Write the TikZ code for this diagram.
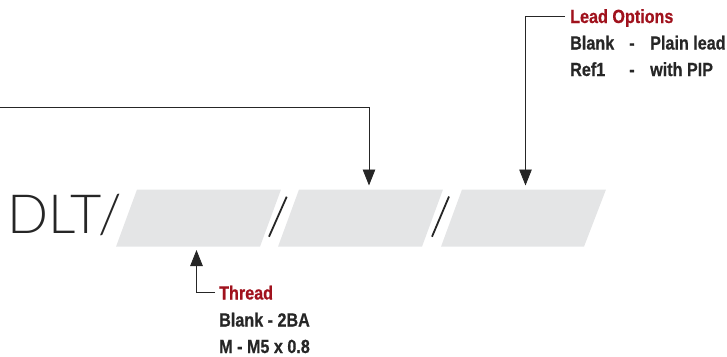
\documentclass[tikz,border=0pt]{standalone}
\usepackage{fontspec}
\setmainfont{Liberation Sans}
\newfontfamily\labelfont[FakeStretch=0.85,FakeBold=0.6]{Liberation Sans Bold}
\newfontfamily\codefont{Lato Light}
\usetikzlibrary{arrows.meta}
\definecolor{boxgrey}{HTML}{E4E5E6}
\definecolor{leadred}{HTML}{A0121D}
\definecolor{inkdark}{HTML}{262626}
\tikzset{
  x=1pt,y=-1pt,
  entry/.style={fill=boxgrey,draw=none},
  slashmark/.style={draw=inkdark,line width=1.8pt},
  headtext/.style={anchor=base west,inner sep=0pt,font=\labelfont\fontsize{19}{22}\selectfont,text=leadred},
  bodytext/.style={anchor=base west,inner sep=0pt,font=\labelfont\fontsize{19}{22}\selectfont,text=inkdark},
  pointer/.style={draw=inkdark,line width=0.8pt,-{Triangle[length=16pt,width=12.5pt]}},
}
\begin{document}
\begin{tikzpicture}
\useasboundingbox (0,0) rectangle (727,356);
\fill[entry] (137,189.5) -- (281,189.5) -- (260,246.7) -- (116,246.7) -- cycle;
\fill[entry] (299,189.5) -- (443,189.5) -- (422,246.7) -- (278,246.7) -- cycle;
\fill[entry] (462,189.5) -- (606,189.5) -- (584,246.7) -- (441,246.7) -- cycle;
\draw[slashmark] (286.7,196.7) -- (269,236.7);
\draw[slashmark] (449,196.5) -- (432,236.7);
\node[anchor=base west,inner sep=0pt,font=\codefont\fontsize{54}{60}\selectfont,text=inkdark] (code) at (7,233.3) {DLT/};
\node[headtext] (leadtitle) at (570,23) {Lead Options};
\node[bodytext] (leadblank) at (570,49.5) {Blank};
\node[bodytext] (leaddashone) at (629,49.5) {-};
\node[bodytext] (leadplain) at (650,49.5) {Plain lead};
\node[bodytext] (leadref) at (570,76) {Ref1};
\node[bodytext] (leaddashtwo) at (629,76) {-};
\node[bodytext] (leadpip) at (650,76) {with PIP};
\node[headtext] (threadtitle) at (219,299.5) {Thread};
\node[bodytext] (threadblank) at (219,326.5) {Blank - 2BA};
\node[bodytext] (threadm) at (219,353) {M - M5 x 0.8};
\coordinate (offpage) at (0,107);
\coordinate (midentry) at (369,185.5);
\coordinate (lastentry) at (525.5,185.5);
\coordinate (firstentry) at (196.5,250);
\coordinate (leadstart) at (565,16.5);
\coordinate (threadstart) at (215,292.5);
\draw[pointer] (offpage) -| (midentry);
\draw[pointer] (leadstart) -| (lastentry);
\draw[pointer] (threadstart) -| (firstentry);
\end{tikzpicture}
\end{document}
